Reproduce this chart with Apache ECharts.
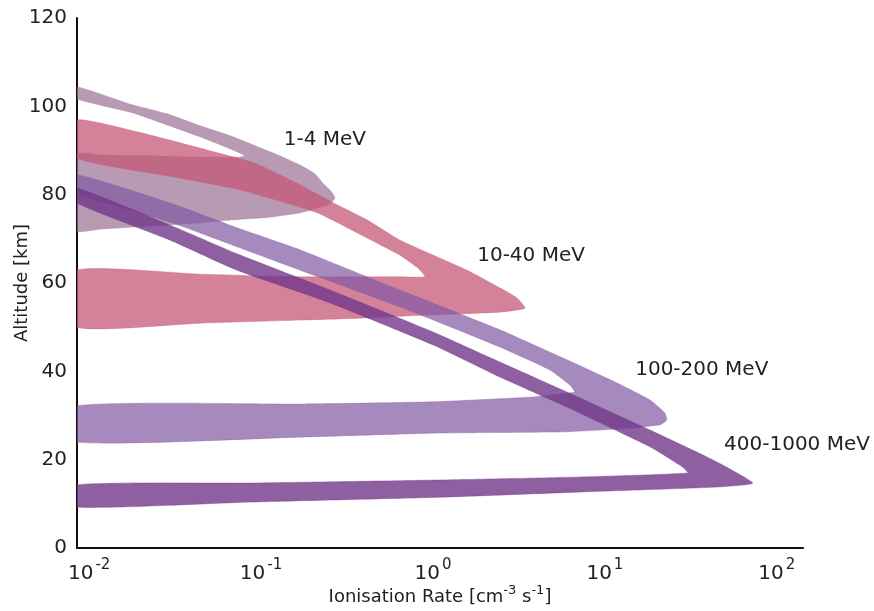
<!DOCTYPE html>
<html>
<head>
<meta charset="utf-8">
<script src="https://cdn.jsdelivr.net/npm/echarts@6/dist/echarts.min.js"></script>
<style>
  html, body { margin: 0; padding: 0; background: #fff; }
  #chart { width: 874px; height: 611px; }
</style>
</head>
<body>
<div id="chart"></div>
<script>
// each band: outer edge from top-left round the tip back to the axis, then the inner edge the same way
const band1OuterRate = [0.0085, 0.0173, 0.0284, 0.0442, 0.0687, 0.0987, 0.134, 0.169, 0.206, 0.229, 0.255, 0.269, 0.252, 0.206, 0.169, 0.113, 0.0687, 0.0442, 0.0226, 0.0116, 0.0085]
const band1OuterAlt  = [104.4, 100.5, 98.3, 95.6, 93.1, 90.6, 88.5, 86.7, 84.7, 82.6, 80.8, 79.3, 77.9, 76.8, 75.9, 74.9, 74.3, 73.6, 72.9, 72.2, 71.8]
const band1InnerRate = [0.0085, 0.0180, 0.0284, 0.0442, 0.0687, 0.0807, 0.0755, 0.0442, 0.0226, 0.0116, 0.0085]
const band1InnerAlt  = [101.7, 98.5, 95.8, 93.1, 90.1, 88.8, 88.5, 88.5, 88.8, 89.0, 89.2]

const band2OuterRate = [0.0085, 0.0201, 0.0485, 0.0911, 0.169, 0.277, 0.413, 0.643, 1.58, 2.45, 3.08, 3.43, 2.45, 1.00, 0.413, 0.169, 0.0442, 0.0085]
const band2OuterAlt  = [96.9, 94.0, 90.1, 87.2, 82.2, 77.7, 74.3, 69.7, 62.9, 58.9, 56.6, 54.3, 53.4, 52.8, 52.1, 51.6, 50.9, 50.0]
const band2InnerRate = [0.0085, 0.0312, 0.0755, 0.212, 0.413, 0.643, 0.818, 0.899, 0.643, 0.169, 0.0442, 0.0085]
const band2InnerAlt  = [88.3, 84.0, 81.1, 75.9, 70.2, 66.3, 63.4, 61.4, 61.4, 61.4, 62.0, 62.9]

const band3OuterRate = [0.0085, 0.0296, 0.0725, 0.169, 0.643, 2.45, 6.01, 11.7, 18.3, 22.3, 22.9, 20.9, 14.6, 6.01, 1.00, 0.169, 0.0085]
const band3OuterAlt  = [84.5, 78.1, 72.5, 67.5, 58.4, 49.4, 42.6, 37.4, 33.5, 30.6, 29.0, 27.9, 27.2, 26.3, 26.0, 25.1, 24.0]
const band3InnerRate = [0.0085, 0.0296, 0.0725, 0.169, 0.643, 2.45, 4.79, 6.26, 6.69, 6.26, 3.81, 1.00, 0.169, 0.0085]
const band3InnerAlt  = [80.4, 73.8, 68.2, 62.9, 54.6, 45.5, 40.3, 36.9, 35.3, 35.1, 34.2, 33.1, 32.6, 32.2]

const band4OuterRate = [0.0085, 0.0296, 0.0725, 0.252, 1.00, 2.45, 6.01, 18.3, 44.8, 72.5, 44.8, 7.45, 1.10, 0.0863, 0.0085]
const band4OuterAlt  = [81.5, 73.1, 66.6, 58.4, 48.9, 42.1, 35.3, 26.7, 19.5, 14.7, 13.8, 12.7, 11.5, 10.4, 9.3]
const band4InnerRate = [0.0085, 0.0296, 0.0725, 0.252, 1.00, 2.45, 6.01, 18.3, 28.4, 30.4, 7.45, 1.10, 0.0863, 0.0085]
const band4InnerAlt  = [78.1, 69.7, 62.9, 55.5, 46.0, 38.7, 31.9, 22.9, 18.3, 17.0, 16.1, 15.4, 14.7, 14.3]

const bandNames = ['1-4 MeV', '10-40 MeV', '100-200 MeV', '400-1000 MeV']
const labelRate = [0.235, 3.72, 36.6, 131]
const labelAlt = [92.4, 66.1, 40.3, 23.3]

const xExponents = [-2, -1, 0, 1, 2]
const rateMin = 0.0085
const rateMax = 142

const bandColors = ['rgba(155,111,148,0.7)', 'rgba(198,88,120,0.75)', 'rgba(128,89,161,0.7)', 'rgba(114,55,138,0.8)']

const bands = [
  [band1OuterRate, band1OuterAlt, band1InnerRate, band1InnerAlt],
  [band2OuterRate, band2OuterAlt, band2InnerRate, band2InnerAlt],
  [band3OuterRate, band3OuterAlt, band3InnerRate, band3InnerAlt],
  [band4OuterRate, band4OuterAlt, band4InnerRate, band4InnerAlt]
]

function outline(b) {
  let pts = []
  for (let i = 0; i < b[0].length; i++) pts.push([Math.log10(b[0][i]), b[1][i]])
  for (let i = b[2].length - 1; i >= 0; i--) pts.push([Math.log10(b[2][i]), b[3][i]])
  return pts
}

let series = bands.map((b, k) => {
  let pts = outline(b)
  return {
    type: 'custom',
    name: bandNames[k],
    data: pts,
    silent: true,
    clip: true,
    renderItem(params, api) {
      if (params.dataIndex !== 0) return
      return {
        type: 'polygon',
        shape: { points: pts.map(p => api.coord(p)), smooth: 0.15 },
        style: { fill: bandColors[k], stroke: bandColors[k], lineWidth: 0.5 }
      }
    }
  }
})

series.push({
  type: 'custom',
  silent: true,
  data: labelRate.map((r, i) => [Math.log10(r), labelAlt[i]]),
  renderItem(params, api) {
    let c = api.coord([api.value(0), api.value(1)])
    return {
      type: 'text',
      x: c[0], y: c[1],
      style: {
        text: bandNames[params.dataIndex],
        fontSize: 20, fontFamily: 'DejaVu Sans', fill: '#222',
        align: 'center', verticalAlign: 'middle'
      }
    }
  }
})

let myChart = echarts.init(document.getElementById('chart'))
myChart.setOption({
  animation: false,
  grid: { left: 77, right: 71, top: 18, bottom: 63, outerBoundsMode: 'none', containLabel: false },
  xAxis: {
    type: 'value',
    min: Math.log10(rateMin),
    max: Math.log10(rateMax),
    name: '{n|Ionisation Rate [cm}{s|-3}{n| s}{s|-1}{n|]}',
    nameLocation: 'middle',
    nameGap: 36,
    nameMoveOverlap: false,
    nameTextStyle: {
      rich: {
        n: { fontSize: 18, fontFamily: 'DejaVu Sans', color: '#222', verticalAlign: 'bottom' },
        s: { fontSize: 13, fontFamily: 'DejaVu Sans', color: '#222', verticalAlign: 'top', padding: [0, 0, 9, 0] }
      }
    },
    axisLine: { onZero: false, lineStyle: { color: '#111', width: 2 } },
    axisTick: { show: false },
    splitLine: { show: false },
    axisLabel: {
      customValues: xExponents,
      margin: 10,
      formatter: v => '{b|10}{s|' + Math.round(v) + '}',
      rich: {
        b: { fontSize: 20, fontFamily: 'DejaVu Sans', color: '#222', verticalAlign: 'bottom' },
        s: { fontSize: 15, fontFamily: 'DejaVu Sans', color: '#222', verticalAlign: 'top', padding: [0, 0, 11, 2] }
      }
    }
  },
  yAxis: {
    type: 'value',
    min: 0,
    max: 120,
    interval: 20,
    name: 'Altitude [km]',
    nameLocation: 'middle',
    nameGap: 46,
    nameMoveOverlap: false,
    nameTextStyle: { fontSize: 18, fontFamily: 'DejaVu Sans', color: '#222' },
    axisLine: { show: true, onZero: false, lineStyle: { color: '#111', width: 2 } },
    axisTick: { show: false },
    splitLine: { show: false },
    axisLabel: { fontSize: 20, fontFamily: 'DejaVu Sans', color: '#222', margin: 10 }
  },
  series: series
})
</script>
</body>
</html>
